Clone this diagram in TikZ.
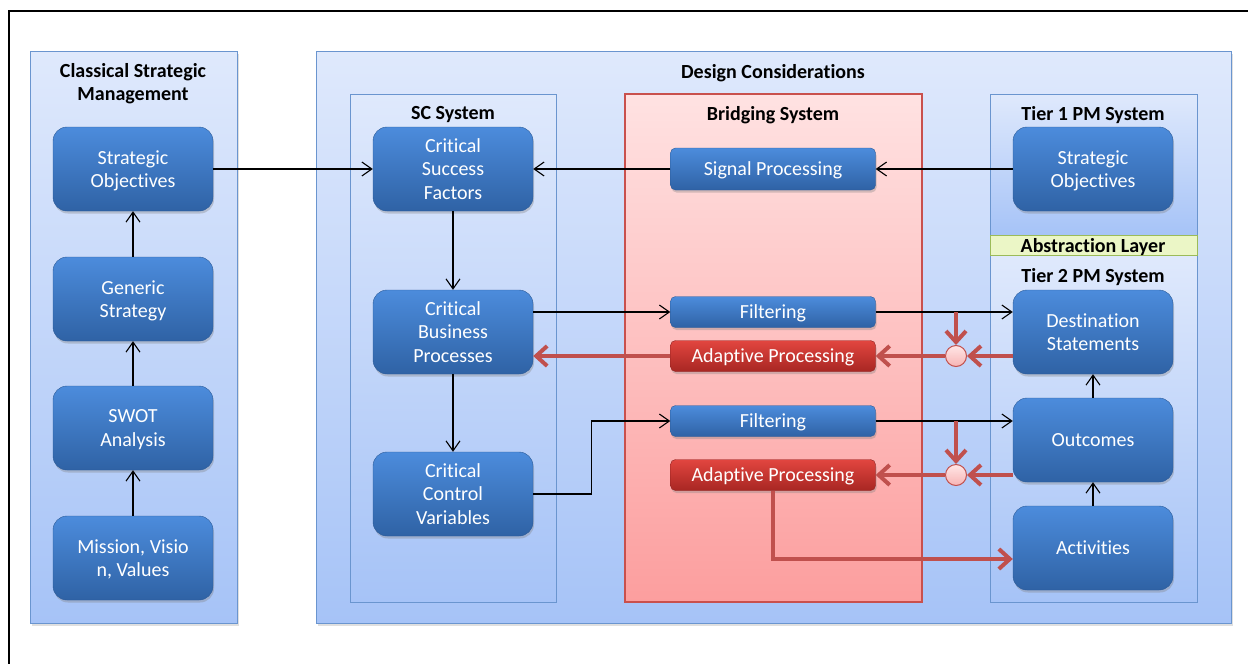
\documentclass[tikz,border=0pt]{standalone}
\usepackage{fontspec}
\setmainfont[Ligatures=NoCommon]{Carlito}
\usetikzlibrary{arrows.meta,shadows}

\definecolor{panelLine}{HTML}{6A95CF}
\definecolor{panelTop}{HTML}{DFE9FC}
\definecolor{panelBot}{HTML}{A6C3F7}
\definecolor{bridgeLine}{HTML}{C9504D}
\definecolor{bridgeTop}{HTML}{FFE2E2}
\definecolor{bridgeBot}{HTML}{FC9E9E}
\definecolor{boxTop}{HTML}{4C8CDC}
\definecolor{boxBot}{HTML}{2F62A5}
\definecolor{boxLine}{HTML}{2B5A97}
\definecolor{redTop}{HTML}{E2453F}
\definecolor{redBot}{HTML}{A82723}
\definecolor{redLine}{HTML}{8E2220}
\definecolor{fbRed}{HTML}{C0504D}
\definecolor{junTop}{HTML}{FFE6E6}
\definecolor{junBot}{HTML}{F7B4B4}
\definecolor{layerFill}{HTML}{EBF6C6}
\definecolor{layerLine}{HTML}{9BBB59}

\begin{document}
\begin{tikzpicture}[x=1pt,y=-1pt]
		\tikzset{panel/.style = {draw=panelLine, line width=1pt, top color=panelTop, bottom color=panelBot}}
		\tikzset{title/.style = {font=\bfseries\fontsize{20}{23.5}\selectfont, align=center, text depth=0pt}}
		\tikzset{box/.style = {rounded corners=14pt, draw=boxLine, top color=boxTop, bottom color=boxBot, text=white, minimum width=160pt, minimum height=84pt, align=center, text depth=0pt, font=\fontsize{20}{23.5}\selectfont, drop shadow={shadow xshift=1pt, shadow yshift=-2.5pt, opacity=0.35}}}
		\tikzset{bar/.style = {box, rounded corners=5pt, minimum width=205pt, minimum height=31pt}}
		\tikzset{redbar/.style = {bar, draw=redLine, top color=redTop, bottom color=redBot}}
		\tikzset{edge/.style = {-{Straight Barb[length=10pt,width=14pt]}, line width=1.1pt}}
		\tikzset{redge/.style = {draw=fbRed, line width=4pt, -{Straight Barb[length=11pt,width=20pt]}}}
		\tikzset{junction/.style = {circle, draw=fbRed, line width=1pt, inner sep=0pt, minimum size=21pt, top color=junTop, bottom color=junBot}}

		\useasboundingbox (0,0) rectangle (1248,664);
		\draw[line width=1.3pt] (1248,11) -- (9,11) -- (9,664);

		% panels
		\draw[panel, drop shadow={shadow xshift=2pt, shadow yshift=-3pt, opacity=0.25}] (30,51) rectangle (237,623);
		\draw[panel, drop shadow={shadow xshift=2pt, shadow yshift=-3pt, opacity=0.25}] (316,51) rectangle (1231,623);
		\draw[panel] (350,94) rectangle (556,602);
		\draw[draw=bridgeLine, line width=1.2pt, top color=bridgeTop, bottom color=bridgeBot] (625,94) rectangle (922,602);
		\draw[panel] (990,94) rectangle (1197,235);
		\draw[panel] (990,255) rectangle (1197,602);
		\draw[draw=layerLine, line width=1pt, fill=layerFill] (990,235) rectangle (1197,255);

		\node[title] (T_csm) at (133,82) {Classical Strategic\\Management};
		\node[title] (T_dc) at (773,71) {Design Considerations};
		\node[title] (T_sc) at (453,113) {SC System};
		\node[title] (T_br) at (773,113) {Bridging System};
		\node[title] (T_t1) at (1093,113) {Tier 1 PM System};
		\node[title] (T_al) at (1093,245) {Abstraction Layer};
		\node[title] (T_t2) at (1093,275) {Tier 2 PM System};

		% classical
		\node[box] (SO_1) at (133,169) {Strategic\\Objectives};
		\node[box] (GS) at (133,299) {Generic\\Strategy};
		\node[box] (SW) at (133,428) {SWOT\\Analysis};
		\node[box] (MV) at (133,558) {Mission, Visio\\n, Values};

		% sc system
		\node[box] (CSF) at (453,169) {Critical\\Success\\Factors};
		\node[box] (CBP) at (453,332) {Critical\\Business\\Processes};
		\node[box] (CCV) at (453,494) {Critical\\Control\\Variables};

		% bridging
		\node[bar, minimum height=42pt] (SP) at (773,169) {Signal Processing};
		\node[bar] (F_1) at (773,312) {Filtering};
		\node[redbar] (A_1) at (773,356) {Adaptive Processing};
		\node[bar] (F_2) at (773,421) {Filtering};
		\node[redbar] (A_2) at (773,475) {Adaptive Processing};

		% pm system
		\node[box] (SO_2) at (1093,169) {Strategic\\Objectives};
		\node[box] (DS) at (1093,332) {Destination\\Statements};
		\node[box] (OC) at (1093,440) {Outcomes};
		\node[box] (AC) at (1093,548) {Activities};

		\node[junction] (J_1) at (956,356) {};
		\node[junction] (J_2) at (956,475) {};


		\draw[edge] (MV) to (SW) {};
		\draw[edge] (SW) to (GS) {};
		\draw[edge] (GS) to (SO_1) {};
		\draw[edge] (SO_1) to (CSF) {};

		\draw[edge] (CSF) to (CBP) {};
		\draw[edge] (CBP) to (CCV) {};

		\draw[edge] (SO_2) to (SP) {};
		\draw[edge] (SP) to (CSF) {};

		\draw[edge] (F_1 -| CBP.east) to (F_1.west) {};
		\draw[edge] (F_1.east) to (F_1 -| DS.west) {};
		\draw[edge] (CCV.east) -- ++(58,0) |- (F_2.west);
		\draw[edge] (F_2.east) to (F_2 -| OC.west) {};

		\draw[edge] (AC) to (OC) {};
		\draw[edge] (OC) to (DS) {};


		\draw[redge] (J_1 |- F_1.east) to (J_1.north) {};
		\draw[redge] (J_1 -| DS.west) to (J_1.east) {};
		\draw[redge] (J_1.west) to (A_1.east) {};
		\draw[redge] (A_1.west) to (A_1 -| CBP.east) {};

		\draw[redge] (J_2 |- F_2.east) to (J_2.north) {};
		\draw[redge] (J_2 -| OC.west) to (J_2.east) {};
		\draw[redge] (J_2.west) to (A_2.east) {};
		\draw[redge] (A_2.south) |- ([yshift=-11pt]AC.west);

	\end{tikzpicture}
\end{document}
